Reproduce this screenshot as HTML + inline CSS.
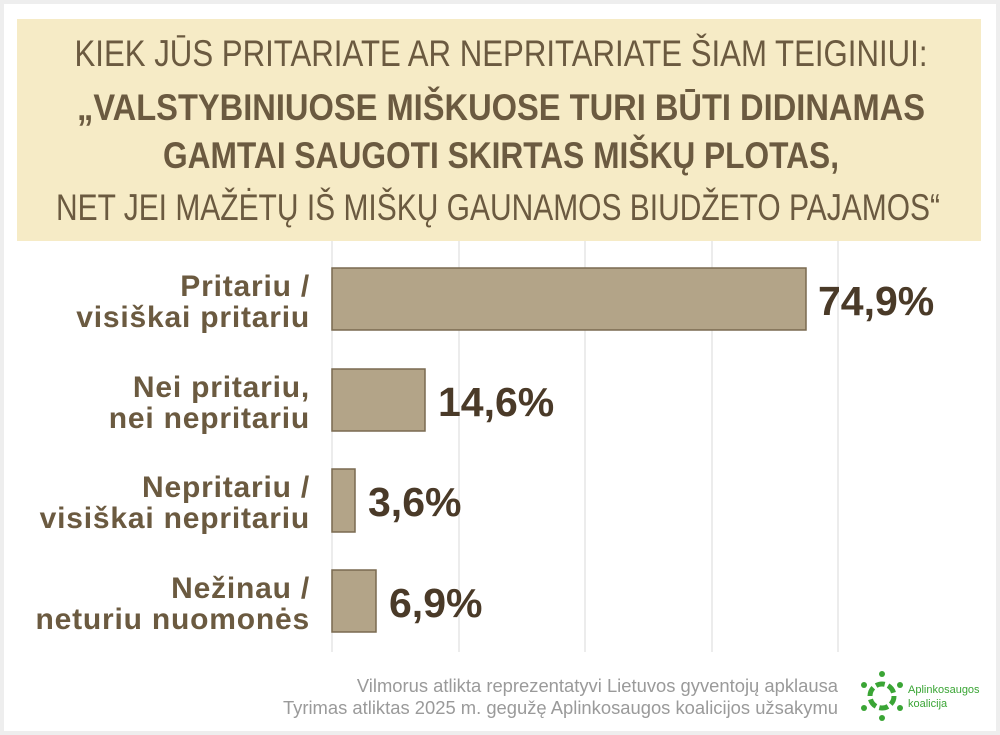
<!DOCTYPE html>
<html><head><meta charset="utf-8"><style>
html,body{margin:0;padding:0;background:#efefef;}
svg{display:block;}
</style></head><body>
<svg width="1000" height="735" viewBox="0 0 1000 735" xmlns="http://www.w3.org/2000/svg">
<rect x="0" y="0" width="1000" height="735" fill="#eeeeee"/>
<rect x="4" y="4" width="992" height="727" fill="#ffffff"/>
<rect x="17" y="19" width="964" height="222" fill="#f6ebc6"/>
<g font-family="'Liberation Sans Narrow','Liberation Sans',sans-serif" fill="#6b5a40" text-anchor="middle">
<text x="501" y="66" font-size="37" textLength="853" lengthAdjust="spacingAndGlyphs">KIEK JŪS PRITARIATE AR NEPRITARIATE ŠIAM TEIGINIUI:</text>
<text x="501" y="120" font-size="37" font-weight="bold" textLength="848" lengthAdjust="spacingAndGlyphs">„VALSTYBINIUOSE MIŠKUOSE TURI BŪTI DIDINAMAS</text>
<text x="501" y="168" font-size="37" font-weight="bold" textLength="676" lengthAdjust="spacingAndGlyphs">GAMTAI SAUGOTI SKIRTAS MIŠKŲ PLOTAS,</text>
<text x="498" y="220" font-size="37" textLength="884" lengthAdjust="spacingAndGlyphs">NET JEI MAŽĖTŲ IŠ MIŠKŲ GAUNAMOS BIUDŽETO PAJAMOS“</text>
</g>
<g stroke="#e6e6e6" stroke-width="1.5">
<line x1="332" y1="241" x2="332" y2="652"/>
<line x1="459" y1="241" x2="459" y2="652"/>
<line x1="585" y1="241" x2="585" y2="652"/>
<line x1="712" y1="241" x2="712" y2="652"/>
<line x1="838" y1="241" x2="838" y2="652"/>
</g>
<g fill="#b3a488" stroke="#7a6a50" stroke-width="1.5">
<rect x="332" y="268" width="474" height="62"/>
<rect x="332" y="369" width="93" height="62"/>
<rect x="332" y="469" width="23" height="63"/>
<rect x="332" y="570" width="44" height="62"/>
</g>
<g font-family="'Liberation Sans',sans-serif" font-weight="bold" font-size="30" letter-spacing="0.8" fill="#6b5a40" text-anchor="end">
<text x="310" y="296">Pritariu /</text><text x="310" y="327">visiškai pritariu</text>
<text x="310" y="397">Nei pritariu,</text><text x="310" y="428">nei nepritariu</text>
<text x="310" y="497">Nepritariu /</text><text x="310" y="528">visiškai nepritariu</text>
<text x="310" y="598">Nežinau /</text><text x="310" y="629">neturiu nuomonės</text>
</g>
<g font-family="'Liberation Sans',sans-serif" font-weight="bold" font-size="41" fill="#4a3a28">
<text x="818" y="315">74,9%</text>
<text x="438" y="416">14,6%</text>
<text x="368" y="516">3,6%</text>
<text x="389" y="617">6,9%</text>
</g>
<g font-family="'Liberation Sans',sans-serif" font-size="18.4" fill="#9a9a9a" text-anchor="end">
<text x="838" y="692">Vilmorus atlikta reprezentatyvi Lietuvos gyventojų apklausa</text>
<text x="838" y="714">Tyrimas atliktas 2025 m. gegužę  Aplinkosaugos koalicijos užsakymu</text>
</g>
<g fill="#3aa535" stroke="#3aa535">
<circle cx="882" cy="674" r="3" stroke="none"/>
<circle cx="882" cy="718" r="3" stroke="none"/>
<circle cx="864" cy="685" r="3" stroke="none"/>
<circle cx="900" cy="685" r="3" stroke="none"/>
<circle cx="864" cy="708" r="3" stroke="none"/>
<circle cx="900" cy="708" r="3" stroke="none"/>
<circle cx="882" cy="696" r="12" fill="none" stroke-width="5" stroke-dasharray="9 3.5"/>
</g>
<g font-family="'Liberation Sans Narrow','Liberation Sans',sans-serif" font-size="11" fill="#3aa535">
<text x="908" y="693">Aplinkosaugos</text>
<text x="908" y="707">koalicija</text>
</g>
</svg>
</body></html>
